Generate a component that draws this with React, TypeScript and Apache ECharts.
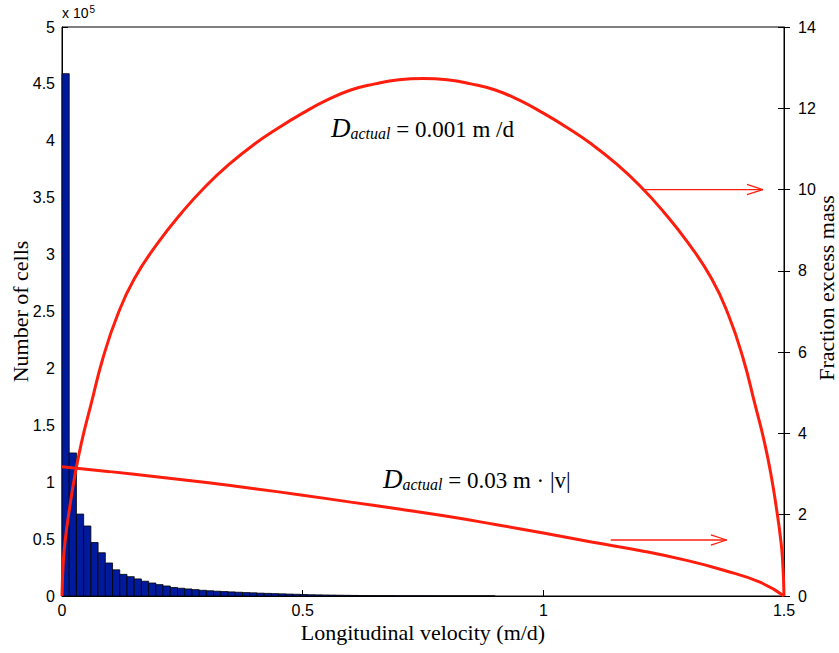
import React, { useEffect, useRef } from "react";
import * as echarts from "echarts";

// Histogram: number of cells (x 10^5) per velocity bin of width BIN_WIDTH starting at 0
const BIN_WIDTH = 0.015;
const BAR_COUNTS = [
  4.59, 1.257, 0.72, 0.615, 0.47, 0.38, 0.29, 0.23, 0.19, 0.17,
  0.15, 0.13, 0.114, 0.1, 0.088, 0.075, 0.068, 0.062, 0.056, 0.05,
  0.046, 0.042, 0.039, 0.036, 0.033, 0.03, 0.028, 0.025, 0.023, 0.021,
  0.019, 0.017, 0.015, 0.013, 0.011, 0.01, 0.009, 0.008, 0.007, 0.006,
  0.005, 0.004, 0.004, 0.003, 0.003, 0.003, 0.002, 0.002, 0.002, 0.002,
  0.0015, 0.0015, 0.001, 0.001, 0.001, 0.001, 0.001, 0.001, 0.001, 0.001,
];

// Fraction excess mass, D_actual = 0.001 m/d : [velocity, value]
const CURVE_CONST = [
  [0, 0], [0.003, 0.9], [0.008, 1.5], [0.015, 2.1], [0.025, 2.85], [0.04, 3.75],
  [0.06, 4.7], [0.085, 5.85], [0.115, 6.9], [0.15, 7.8], [0.2, 8.7], [0.25, 9.45],
  [0.3, 10.1], [0.35, 10.65], [0.4, 11.12], [0.45, 11.52], [0.5, 11.88],
  [0.55, 12.2], [0.6, 12.45], [0.65, 12.6], [0.7, 12.7], [0.75, 12.73],
  [0.8, 12.7], [0.85, 12.6], [0.9, 12.45], [0.95, 12.2], [1.0, 11.88],
  [1.05, 11.52], [1.1, 11.12], [1.15, 10.65], [1.2, 10.1], [1.25, 9.45],
  [1.3, 8.7], [1.35, 7.8], [1.385, 6.9], [1.415, 5.85], [1.44, 4.7],
  [1.46, 3.75], [1.475, 2.85], [1.485, 2.1], [1.492, 1.5], [1.497, 0.9], [1.5, 0],
];

// Fraction excess mass, D_actual = 0.03 m·|v|
const CURVE_LINEAR = [
  [0, 3.18], [0.1, 3.06], [0.2, 2.93], [0.3, 2.79], [0.4, 2.64], [0.5, 2.48],
  [0.6, 2.31], [0.7, 2.14], [0.8, 1.96], [0.9, 1.76], [1.0, 1.55], [1.1, 1.33],
  [1.2, 1.12], [1.3, 0.87], [1.373, 0.64], [1.45, 0.34], [1.5, 0],
];

// Arrows (data coordinates on the right axis)
const ARROW_UPPER = { from: [1.211, 10], to: [1.456, 10] };
const ARROW_LOWER = { from: [1.14, 1.378], to: [1.381, 1.378] };
const HEAD_DX = 0.033;
const HEAD_DY = 0.125;

const X_TICKS = { min: 0, max: 1.5, interval: 0.5 };
const Y_LEFT = { min: 0, max: 5, interval: 0.5 };
const Y_RIGHT = { min: 0, max: 14, interval: 2 };

const SANS = "'Liberation Sans', Arial, Helvetica, sans-serif";
const SERIF = "'Liberation Serif', 'Times New Roman', serif";
const RED = "#ff1e0e";
const BLUE = "#001a9e";

function arrowSeries(a: { from: number[]; to: number[] }) {
  const [x1, y] = a.to;
  return [
    {
      type: "line",
      yAxisIndex: 1,
      data: [a.from, a.to],
      symbol: "none",
      silent: true,
      lineStyle: { color: RED, width: 1.3 },
      z: 5,
    },
    {
      type: "line",
      yAxisIndex: 1,
      data: [
        [x1 - HEAD_DX, y + HEAD_DY],
        [x1, y],
        [x1 - HEAD_DX, y - HEAD_DY],
      ],
      symbol: "none",
      silent: true,
      lineStyle: { color: RED, width: 1.3 },
      z: 5,
    },
  ];
}

const annoRich = {
  d: { fontFamily: SERIF, fontSize: 27, fontStyle: "italic", fill: "#000", verticalAlign: "bottom" },
  s: { fontFamily: SERIF, fontSize: 16, fontStyle: "italic", fill: "#000", verticalAlign: "bottom" },
  n: { fontFamily: SERIF, fontSize: 23, fill: "#000", verticalAlign: "bottom" },
};

export default function App() {
  const ref = useRef<HTMLDivElement>(null);

  useEffect(() => {
    if (!ref.current) return;
    const chart = echarts.init(ref.current, null, { renderer: "svg" });

    const histData = BAR_COUNTS.map((v, i) => [i * BIN_WIDTH, (i + 1) * BIN_WIDTH, v]);

    const axisCommon = {
      axisLine: { show: true, lineStyle: { color: "#000", width: 1 } },
      splitLine: { show: false },
      axisLabel: { color: "#000", fontSize: 16, fontFamily: SANS },
    };

    const option: any = {
      animation: false,
      backgroundColor: "#fff",
      grid: {
        left: 62,
        right: 55,
        top: 27,
        bottom: 57,
        containLabel: false,
        outerBoundsMode: "none",
        show: true,
        borderColor: "#000",
        borderWidth: 1,
        backgroundColor: "transparent",
      },
      xAxis: {
        type: "value",
        ...X_TICKS,
        ...axisCommon,
        axisTick: { show: true, inside: true, length: 6, lineStyle: { color: "#000" } },
        axisLabel: { ...axisCommon.axisLabel, margin: 6 },
        name: "Longitudinal velocity (m/d)",
        nameLocation: "middle",
        nameGap: 25,
        nameMoveOverlap: false,
        nameTextStyle: { fontFamily: SERIF, fontSize: 22, color: "#000" },
      },
      yAxis: [
        {
          type: "value",
          position: "left",
          ...Y_LEFT,
          ...axisCommon,
          axisTick: { show: true, inside: true, length: 6, lineStyle: { color: "#000" } },
          axisLabel: { ...axisCommon.axisLabel, margin: 7 },
          name: "Number of cells",
          nameLocation: "middle",
          nameRotate: 90,
          nameGap: 31,
          nameMoveOverlap: false,
          nameTextStyle: { fontFamily: SERIF, fontSize: 22, color: "#000" },
        },
        {
          type: "value",
          position: "right",
          ...Y_RIGHT,
          ...axisCommon,
          axisTick: { show: true, inside: false, length: 6, lineStyle: { color: "#000" } },
          axisLabel: { ...axisCommon.axisLabel, margin: 14 },
        },
        {
          type: "value",
          position: "right",
          ...Y_RIGHT,
          axisLine: { show: false },
          splitLine: { show: false },
          axisLabel: { show: false },
          axisTick: { show: true, inside: true, length: 6, lineStyle: { color: "#000" } },
        },
      ],
      series: [
        {
          type: "custom",
          name: "Number of cells",
          data: histData,
          encode: { x: [0, 1], y: 2 },
          silent: true,
          z: 1,
          renderItem: (params: any, api: any) => {
            const x0 = api.value(0);
            const x1 = api.value(1);
            const y = api.value(2);
            const p0 = api.coord([x0, y]);
            const p1 = api.coord([x1, 0]);
            return {
              type: "rect",
              shape: { x: p0[0], y: p0[1], width: p1[0] - p0[0], height: p1[1] - p0[1] },
              style: { fill: BLUE, stroke: "#000", lineWidth: 0.8 },
            };
          },
        },
        {
          type: "line",
          name: "D_actual = 0.001 m/d",
          yAxisIndex: 1,
          data: CURVE_CONST,
          symbol: "none",
          smooth: 0.5,
          lineStyle: { color: RED, width: 3 },
          z: 4,
        },
        {
          type: "line",
          name: "D_actual = 0.03 m·|v|",
          yAxisIndex: 1,
          data: CURVE_LINEAR,
          symbol: "none",
          smooth: 0.5,
          lineStyle: { color: RED, width: 3 },
          z: 4,
        },
        ...arrowSeries(ARROW_UPPER),
        ...arrowSeries(ARROW_LOWER),
      ],
      graphic: [
        {
          type: "text",
          left: 62,
          top: 4,
          style: {
            text: "x 10{sup|5}",
            fontFamily: SANS,
            fontSize: 14,
            fill: "#000",
            rich: { sup: { fontSize: 10, fontFamily: SANS, verticalAlign: "top", padding: [0, 0, 8, 1] } },
          },
        },
        {
          type: "text",
          x: 826,
          y: 288,
          rotation: Math.PI / 2,
          style: {
            text: "Fraction excess mass",
            fontFamily: SERIF,
            fontSize: 22,
            fill: "#000",
            align: "center",
            verticalAlign: "middle",
          },
        },
        {
          type: "text",
          x: 331,
          y: 141,
          style: {
            text: "{d|D}{s|actual}{n| = 0.001 m /d}",
            verticalAlign: "bottom",
            fill: "#000",
            rich: annoRich,
          },
        },
        {
          type: "text",
          x: 383,
          y: 492,
          style: {
            text: "{d|D}{s|actual}{n| = 0.03 m · |v|}",
            verticalAlign: "bottom",
            fill: "#000",
            rich: annoRich,
          },
        },
      ],
    };

    chart.setOption(option);
    return () => chart.dispose();
  }, []);

  return <div ref={ref} style={{ width: 839, height: 653, position: "absolute", left: 0, top: 0 }} />;
}
